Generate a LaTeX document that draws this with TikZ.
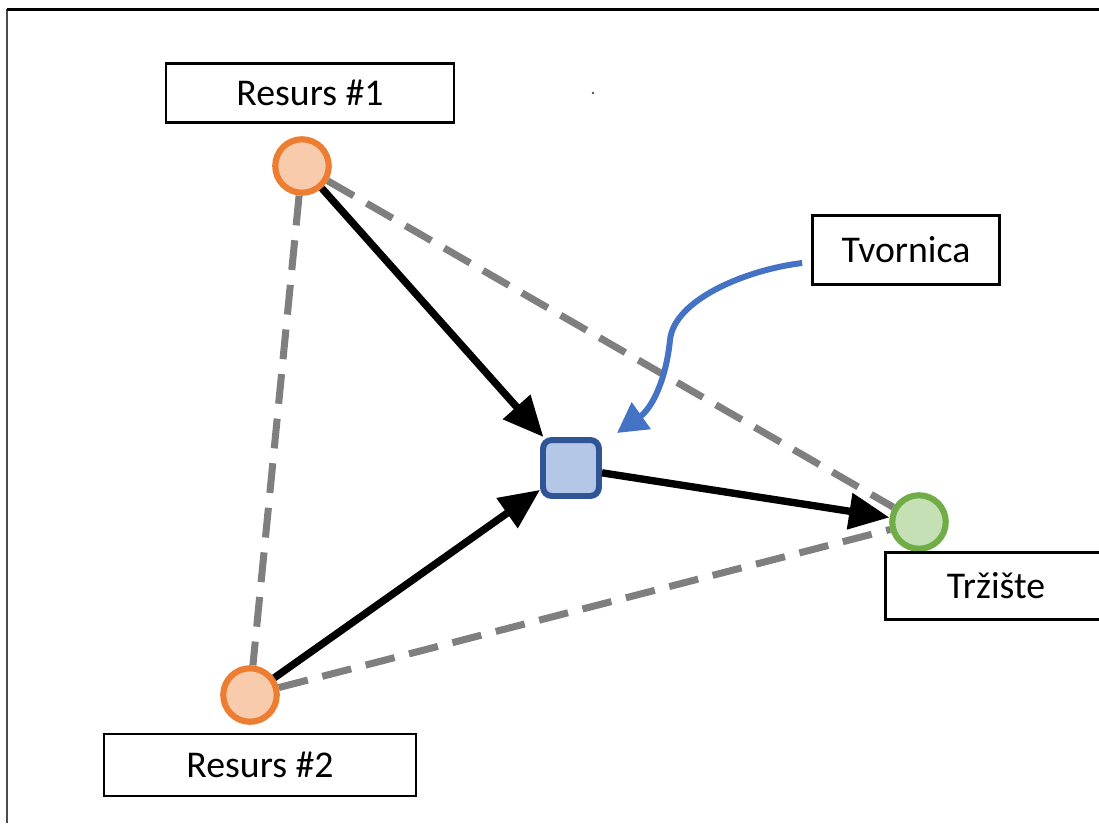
\documentclass[tikz,border=0pt]{standalone}
\usepackage{fontspec}
\setmainfont{Carlito}
\definecolor{resorange}{RGB}{237, 125, 49}
\definecolor{resfill}{RGB}{248, 203, 173}
\definecolor{mktgreen}{RGB}{112, 173, 71}
\definecolor{mktfill}{RGB}{197, 224, 180}
\definecolor{facblue}{RGB}{47, 85, 151}
\definecolor{facfill}{RGB}{180, 199, 231}
\definecolor{pointblue}{RGB}{68, 114, 196}
\definecolor{linkgray}{RGB}{127, 127, 127}
\usetikzlibrary{arrows.meta, positioning}

\tikzset{
  site/.style={circle, minimum size=1.07cm, inner sep=0pt, line width=3.5pt},
  plant/.style={rectangle, rounded corners=5pt, minimum size=1.12cm, inner sep=0pt, line width=3.4pt, draw=facblue, fill=facfill},
  tag/.style={draw=black, line width=1.6pt, fill=white, inner sep=0pt, font=\fontsize{21.5}{25}\selectfont},
  link/.style={draw=linkgray, line width=4pt, dash pattern=on 17pt off 8.5pt},
  flow/.style={draw=black, line width=4.2pt, -{Triangle[length=23pt, width=20pt]}},
  pointer/.style={draw=pointblue, line width=3.4pt, -{Triangle[length=17pt, width=18pt]}}
}

\begin{document}
\begin{tikzpicture}[x=0.02cm, y=-0.02cm]
  \useasboundingbox (0,0) rectangle (1099,823);

  % frame
  \draw[black!70, line width=1.7pt] (7,823) -- (7,9);
  \draw[black, line width=1.7pt] (7,9) -- (1099,9);

  % sites
  \node[site, draw=resorange, fill=resfill] (res1) at (302,166) {};
  \node[site, draw=resorange, fill=resfill] (res2) at (250,695) {};
  \node[site, draw=mktgreen, fill=mktfill] (mkt) at (919,522) {};
  \node[plant] (fac) at (571,468) {};

  % labels
  \node[tag, minimum width=5.76cm, minimum height=1.18cm] (lres1) at (310,93) {Resurs \#1};
  \node[tag, minimum width=6.24cm, minimum height=1.24cm] (lres2) at (260,765) {Resurs \#2};
  \node[tag, minimum width=3.74cm, minimum height=1.38cm] (lfac) at (906,250) {Tvornica};
  \node[tag, minimum width=4.42cm, minimum height=1.34cm] (lmkt) at (996,586) {Tržište};

  % distances
  \draw[link] (res1) -- (res2);
  \draw[link] (res1) -- (mkt);
  \draw[link] (res2) -- (mkt);

  % flows
  \draw[flow] (res1) -- (fac);
  \draw[flow] (res2) -- (fac);
  \draw[flow] (fac) -- (mkt);

  % pointer
  \coordinate (aim) at (617,433);
  \draw[pointer] ([shift={(-9,13)}]lfac.west) .. controls (745,270) and (674,300) .. (670,340)
    .. controls (666,380) and (652,408) .. (aim);

  \fill[black!70] (593,93) circle (1.3);
\end{tikzpicture}
\end{document}
